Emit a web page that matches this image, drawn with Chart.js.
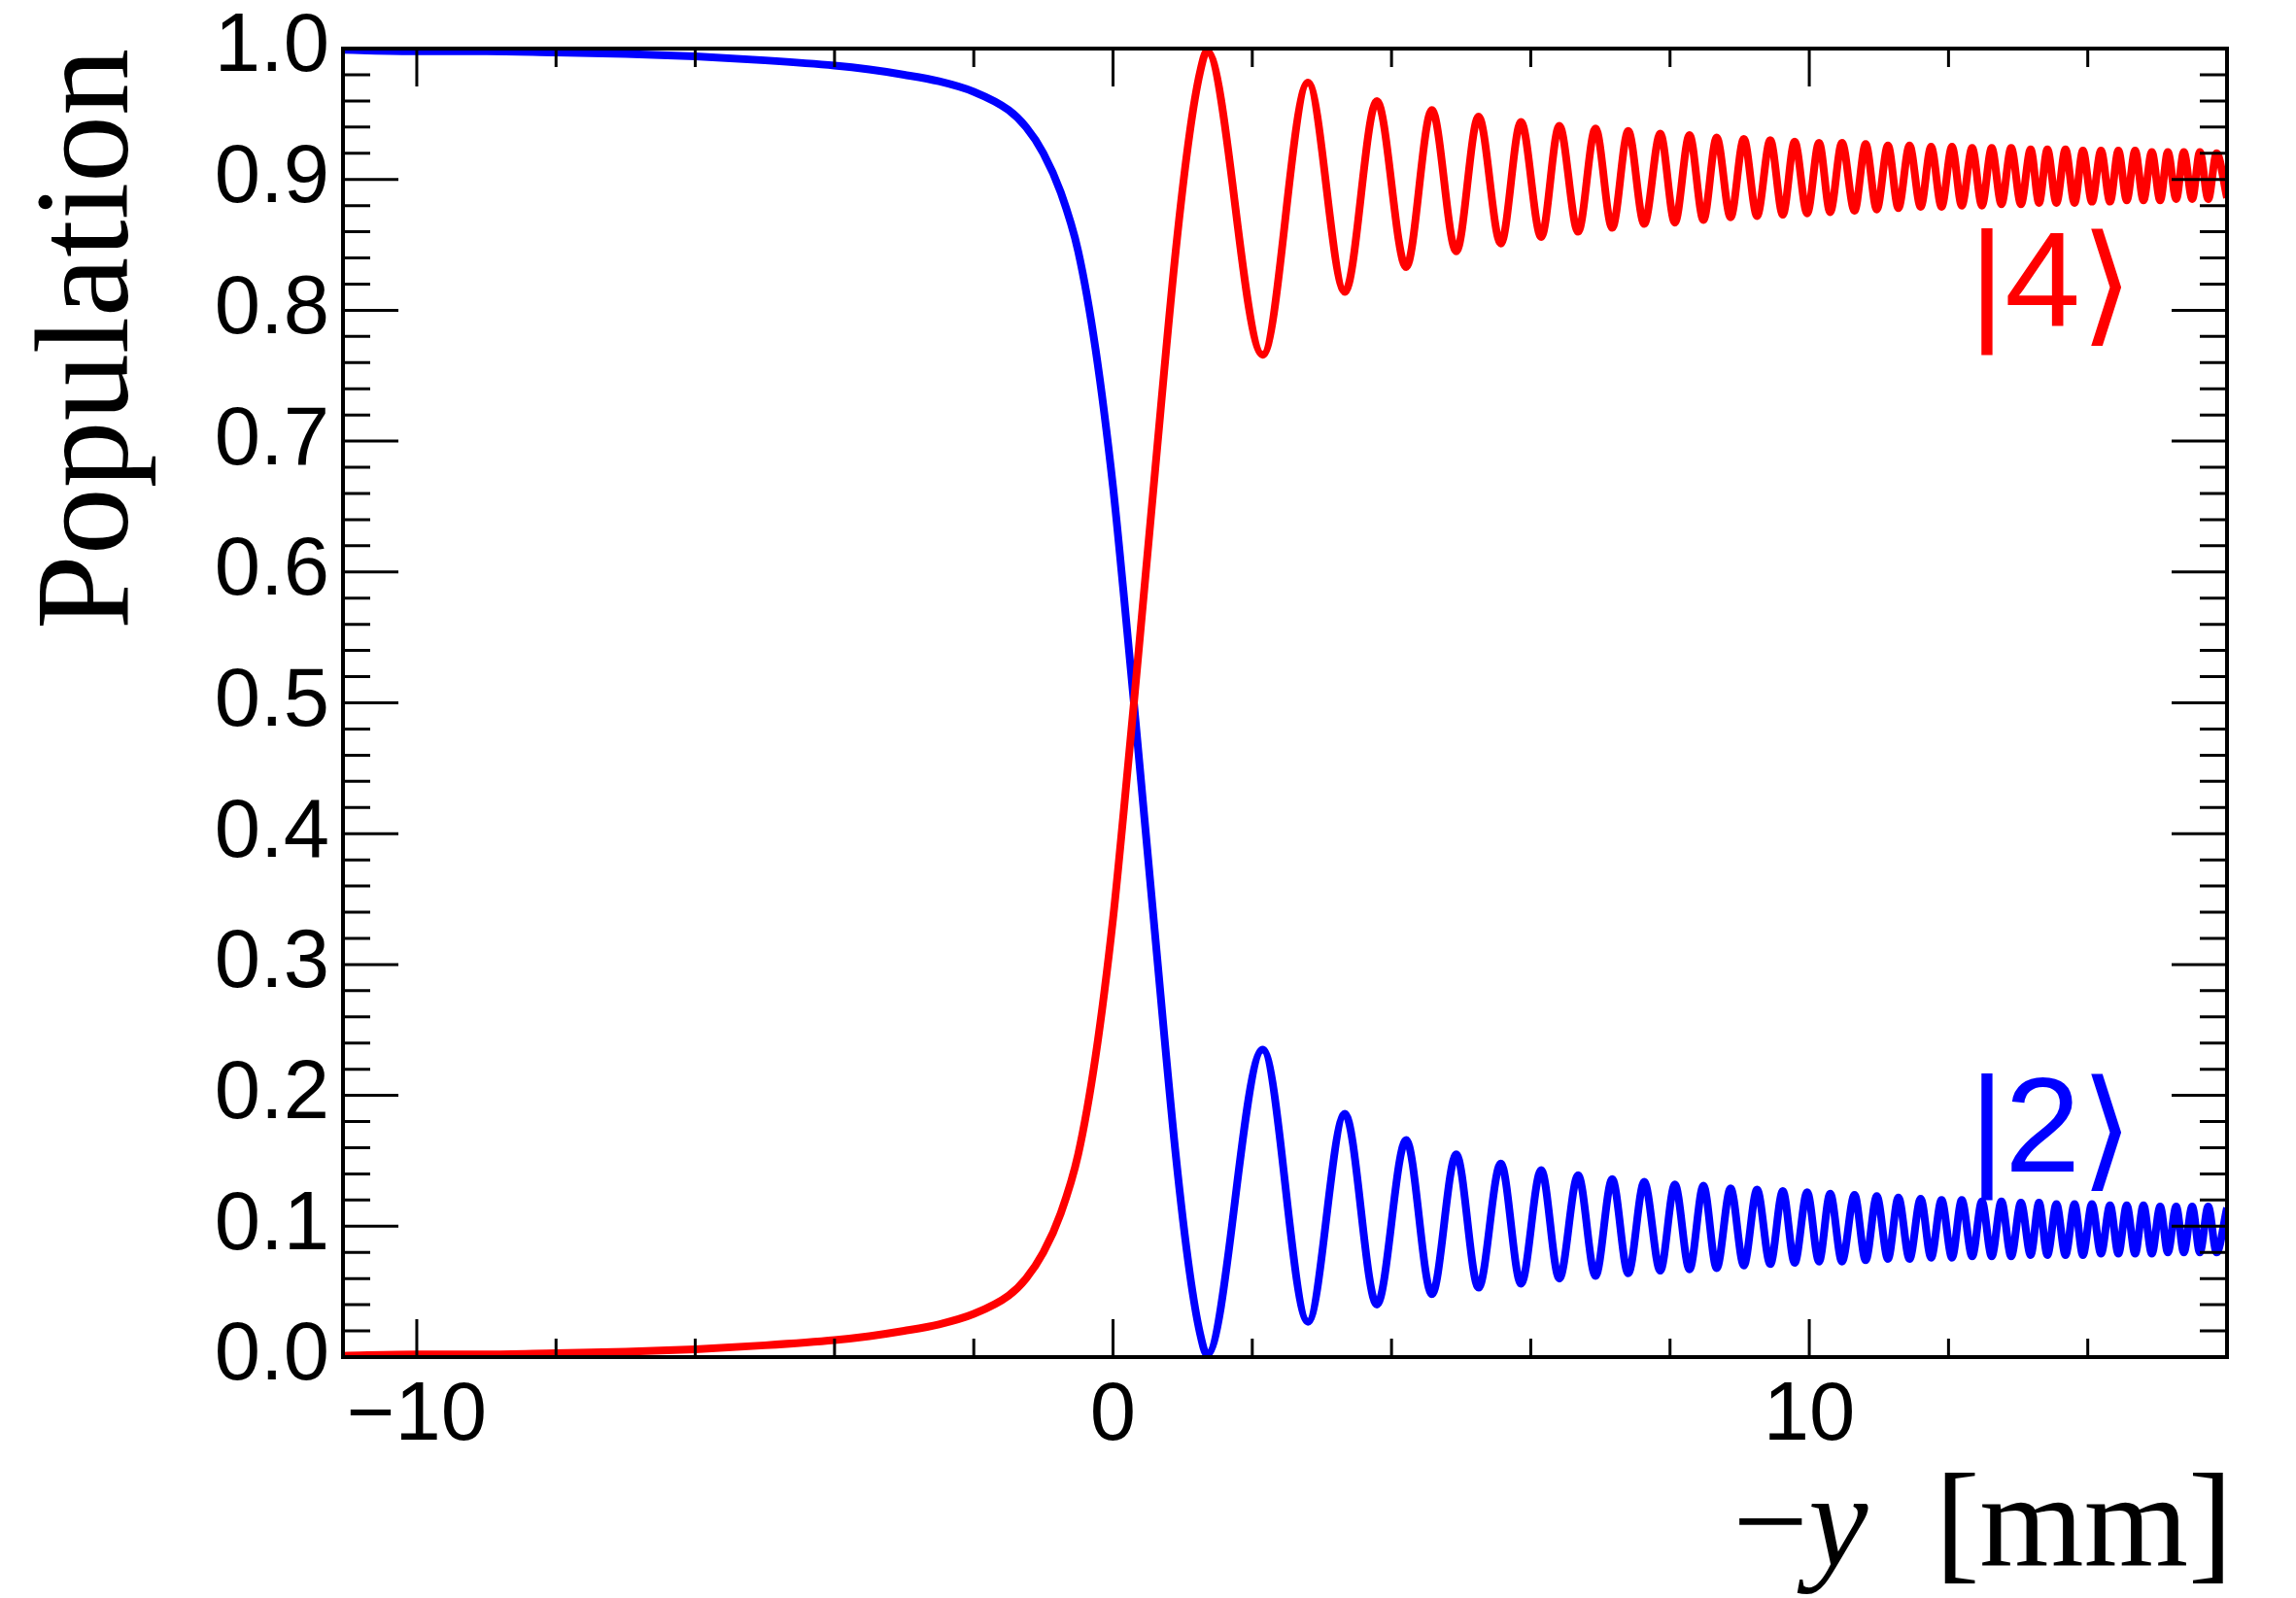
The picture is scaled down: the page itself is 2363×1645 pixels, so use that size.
<!DOCTYPE html>
<html>
<head>
<meta charset="utf-8">
<script src="https://cdn.jsdelivr.net/npm/chart.js@4.4.1/dist/chart.umd.min.js"></script>
<style>
  html, body { margin: 0; padding: 0; background: #fff; }
  #wrap { width: 2363px; height: 1645px; }
</style>
</head>
<body>
<div id="wrap"><canvas id="population"></canvas></div>
<script>
// -y [mm]: smooth transfer, then the extrema of the oscillation
const posX = [
  -11.06, -10, -9, -8, -7, -6, -5, -4, -3.5, -3, -2.5, -2, -1.5, -1.25, -1, -0.75, -0.5, -0.25, 0,
  0.15, 0.3, 0.6, 0.9, 1.1, 1.25, 1.35,
  2.15, 2.8, 3.33, 3.79, 4.21, 4.58, 4.93, 5.25, 5.57, 5.86, 6.15, 6.41, 6.68, 6.93,
  7.17, 7.4, 7.63, 7.86, 8.07, 8.28, 8.48, 8.67, 8.87, 9.06, 9.25, 9.44, 9.62, 9.79,
  9.97, 10.14, 10.3, 10.47, 10.65, 10.81, 10.97, 11.13, 11.28, 11.44, 11.6, 11.75,
  11.9, 12.05, 12.19, 12.34, 12.48, 12.62, 12.76, 12.9, 13.04, 13.18, 13.3, 13.42,
  13.55, 13.68, 13.81, 13.93, 14.06, 14.19, 14.32, 14.44, 14.56, 14.68, 14.8, 14.92,
  15.04, 15.15, 15.27, 15.38, 15.5, 15.61, 15.73, 15.85, 16.0,
];

// population of |4>
const ket4 = [
  0.001, 0.002, 0.002, 0.003, 0.004, 0.006, 0.009, 0.013, 0.016, 0.02, 0.025, 0.033, 0.047, 0.06, 0.08, 0.11, 0.155, 0.23, 0.335,
  0.415, 0.5, 0.675, 0.845, 0.935, 0.982, 0.998,
  0.766, 0.974, 0.814, 0.96, 0.833, 0.953, 0.845, 0.948, 0.851, 0.944, 0.856, 0.941, 0.86, 0.939,
  0.863, 0.937, 0.866, 0.935, 0.867, 0.934, 0.869, 0.932, 0.871, 0.931, 0.872, 0.93, 0.873, 0.929,
  0.874, 0.928, 0.875, 0.928, 0.876, 0.927, 0.877, 0.926, 0.878, 0.926, 0.879, 0.925,
  0.879, 0.925, 0.88, 0.924, 0.88, 0.924, 0.881, 0.924, 0.881, 0.923, 0.882, 0.923,
  0.882, 0.923, 0.882, 0.922, 0.883, 0.922, 0.883, 0.922, 0.884, 0.922, 0.884, 0.921,
  0.884, 0.921, 0.885, 0.921, 0.885, 0.921, 0.885, 0.92, 0.886,
];

// population of |2>
const ket2 = [
  0.999, 0.998, 0.998, 0.997, 0.996, 0.994, 0.991, 0.987, 0.984, 0.98, 0.975, 0.967, 0.953, 0.94, 0.92, 0.89, 0.845, 0.77, 0.665,
  0.585, 0.5, 0.325, 0.155, 0.065, 0.018, 0.002,
  0.235, 0.027, 0.186, 0.04, 0.166, 0.048, 0.155, 0.053, 0.148, 0.056, 0.143, 0.06, 0.139, 0.062,
  0.136, 0.064, 0.134, 0.066, 0.132, 0.067, 0.131, 0.068, 0.129, 0.07, 0.128, 0.071, 0.127, 0.072,
  0.126, 0.073, 0.125, 0.073, 0.124, 0.074, 0.123, 0.075, 0.122, 0.075, 0.121, 0.076,
  0.12, 0.076, 0.12, 0.077, 0.119, 0.077, 0.119, 0.077, 0.118, 0.078, 0.118, 0.078,
  0.117, 0.078, 0.117, 0.078, 0.117, 0.079, 0.116, 0.079, 0.116, 0.079, 0.116, 0.079,
  0.115, 0.08, 0.115, 0.08, 0.115, 0.08, 0.115, 0.08, 0.114,
];

const xMinorStep = 2;
const yMinorStep = 0.02;

// draws a ket like |4> with a closing angle bracket as tall as the bar
function drawKet(ctx, text, color, px, py) {
  ctx.fillStyle = color;
  ctx.font = "140px 'Liberation Sans', 'DejaVu Sans'";
  ctx.fillText("|" + text, px, py);
  const w = ctx.measureText("|" + text).width;
  const bar = ctx.measureText("|");
  const barTop = py - bar.actualBoundingBoxAscent;
  const barH = bar.actualBoundingBoxAscent + bar.actualBoundingBoxDescent;
  const br = ctx.measureText("\u27E9");
  const brH = br.actualBoundingBoxAscent + br.actualBoundingBoxDescent;
  const s = (0.93 * barH) / brH;
  ctx.save();
  ctx.translate(px + w, barTop);
  ctx.scale(1, s);
  ctx.fillText("\u27E9", 0, br.actualBoundingBoxAscent);
  ctx.restore();
}

// ROOT-style frame: inward ticks on all four sides, state labels, x title
const rootFrame = {
  id: "rootFrame",
  afterDraw(chart) {
    const { ctx, chartArea: a } = chart;
    const x = chart.scales.x;
    const y = chart.scales.y;
    ctx.save();
    ctx.strokeStyle = "#000";
    ctx.lineWidth = 3;
    ctx.beginPath();
    for (let i = Math.ceil(x.min / xMinorStep); i * xMinorStep <= x.max; i++) {
      const v = i * xMinorStep;
      const px = x.getPixelForValue(v);
      const len = v % 10 === 0 ? 39 : 19;
      ctx.moveTo(px, a.bottom);
      ctx.lineTo(px, a.bottom - len);
      ctx.moveTo(px, a.top);
      ctx.lineTo(px, a.top + len);
    }
    for (let i = 0; i * yMinorStep <= 1.0001; i++) {
      const py = y.getPixelForValue(i * yMinorStep);
      const len = i % 5 === 0 ? 57 : 28;
      ctx.moveTo(a.left, py);
      ctx.lineTo(a.left + len, py);
      ctx.moveTo(a.right, py);
      ctx.lineTo(a.right - len, py);
    }
    ctx.stroke();
    ctx.lineWidth = 4;
    ctx.strokeRect(a.left, a.top, a.right - a.left, a.bottom - a.top);

    ctx.textBaseline = "alphabetic";
    ctx.textAlign = "left";
    drawKet(ctx, "4", "#ff0000", x.getPixelForValue(12.3), y.getPixelForValue(0.788));
    drawKet(ctx, "2", "#0000ff", x.getPixelForValue(12.3), y.getPixelForValue(0.142));

    // x title: "−y  [mm]" with italic y, right-aligned to the frame
    const parts = [
      ["\u2212", "138px 'Liberation Serif'"],
      ["y", "italic 138px 'Liberation Serif'"],
      ["  [mm]", "138px 'Liberation Serif'"],
    ];
    let total = 0;
    for (const [t, f] of parts) { ctx.font = f; total += ctx.measureText(t).width; }
    let cx = a.right + 6 - total;
    ctx.fillStyle = "#000";
    for (const [t, f] of parts) {
      ctx.font = f;
      ctx.fillText(t, cx, a.bottom + 215);
      cx += ctx.measureText(t).width;
    }
    ctx.restore();
  },
};

const tickFont = { family: "'Liberation Sans', Arial, sans-serif", size: 85, lineHeight: 1 };

new Chart(document.getElementById("population"), {
  type: "line",
  data: {
    datasets: [
      {
        label: "|4\u27E9",
        data: posX.map((v, i) => ({ x: v, y: ket4[i] })),
        borderColor: "#ff0000",
        borderWidth: 8,
        pointRadius: 0,
        cubicInterpolationMode: "monotone",
        fill: false,
      },
      {
        label: "|2\u27E9",
        data: posX.map((v, i) => ({ x: v, y: ket2[i] })),
        borderColor: "#0000ff",
        borderWidth: 8,
        pointRadius: 0,
        cubicInterpolationMode: "monotone",
        fill: false,
      },
    ],
  },
  options: {
    responsive: true,
    maintainAspectRatio: false,
    animation: false,
    layout: { padding: { top: 50, right: 71, left: 0, bottom: 0 } },
    plugins: { legend: { display: false }, tooltip: { enabled: false } },
    scales: {
      x: {
        type: "linear",
        min: -11.06,
        max: 16,
        afterFit: (s) => { s.height = 248; s.paddingLeft = 0; s.paddingRight = 0; },
        grid: { display: false, drawTicks: false },
        border: { display: false },
        ticks: {
          stepSize: 10,
          includeBounds: false,
          padding: 19,
          maxRotation: 0,
          color: "#000",
          font: tickFont,
          callback: (v) => (v < 0 ? "\u2212" + Math.abs(v) : String(v)),
        },
      },
      y: {
        min: 0,
        max: 1,
        afterFit: (s) => { s.width = 353; s.paddingTop = 0; s.paddingBottom = 0; },
        grid: { display: false, drawTicks: false },
        border: { display: false },
        ticks: {
          stepSize: 0.1,
          padding: 14,
          color: "#000",
          font: tickFont,
          callback: (v) => v.toFixed(1),
        },
        title: {
          display: true,
          text: "Population",
          align: "end",
          color: "#000",
          font: { family: "'Liberation Serif', serif", size: 138, lineHeight: 1 },
          padding: { top: 26, bottom: 0 },
        },
      },
    },
  },
  plugins: [rootFrame],
});
</script>
</body>
</html>
